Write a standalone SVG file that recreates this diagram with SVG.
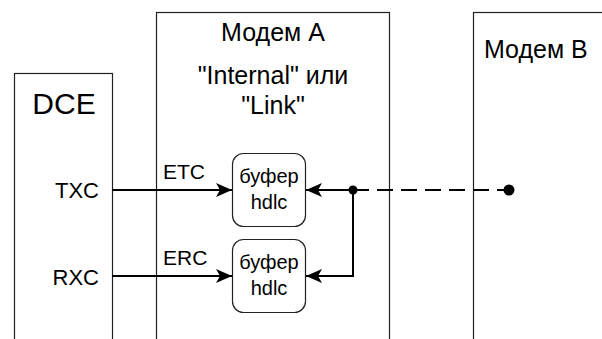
<svg xmlns="http://www.w3.org/2000/svg" width="602" height="339" viewBox="0 0 602 339">
<style>
.box{fill:#fff;stroke:#222;stroke-width:1.2}
.buf{fill:#fff;stroke:#222;stroke-width:1.2}
text{font-family:"Liberation Sans",Arial,sans-serif;fill:#000}
.c{text-anchor:middle}
.r{text-anchor:end}
.wire{fill:none;stroke:#000;stroke-width:2}
.dash{fill:none;stroke:#000;stroke-width:2;stroke-dasharray:16 8}
</style>
<defs>
<marker id="arr" viewBox="0 0 16 14" refX="16" refY="7" markerWidth="16" markerHeight="14" markerUnits="userSpaceOnUse" orient="auto">
<path d="M0,0 L16,7 L0,14 L4,7 Z" fill="#000"/>
</marker>
</defs>
<rect width="602" height="339" fill="#fff"/>
<g id="dce">
<rect class="box" x="14.5" y="73.5" width="98" height="280"/>
<text class="c" x="64" y="114" font-size="30">DCE</text>
<text class="r" x="99" y="198" font-size="22">TXC</text>
<text class="r" x="99" y="285" font-size="22">RXC</text>
</g>
<g id="modemA">
<rect class="box" x="156.5" y="12.5" width="233" height="340"/>
<text class="c" x="273" y="41" font-size="25">Модем А</text>
<text class="c" x="273" y="84" font-size="25">"Internal" или</text>
<text class="c" x="273" y="114" font-size="25">"Link"</text>
<text x="163" y="179" font-size="21">ETC</text>
<text x="163" y="265" font-size="21">ERC</text>
</g>
<g id="modemB">
<rect class="box" x="473.5" y="12.5" width="160" height="340"/>
<text x="484" y="58" font-size="25">Модем В</text>
</g>
<g id="buf1">
<rect class="buf" x="232.5" y="153.5" width="73" height="73" rx="11"/>
<text class="c" x="269" y="183" font-size="20">буфер</text>
<text class="c" x="269" y="209" font-size="20">hdlc</text>
</g>
<g id="buf2">
<rect class="buf" x="232.5" y="239.5" width="73" height="73" rx="11"/>
<text class="c" x="269" y="269" font-size="20">буфер</text>
<text class="c" x="269" y="295" font-size="20">hdlc</text>
</g>
<g id="connectors">
<line class="wire" x1="112" y1="190" x2="232" y2="190" marker-end="url(#arr)"/>
<line class="wire" x1="112" y1="276" x2="232" y2="276" marker-end="url(#arr)"/>
<line class="wire" x1="353" y1="190" x2="306" y2="190" marker-end="url(#arr)"/>
<polyline class="wire" points="353,190 353,276 306,276" marker-end="url(#arr)"/>
<line class="dash" x1="353" y1="190" x2="505" y2="190"/>
<circle cx="353" cy="190" r="4.5" fill="#000"/>
<circle cx="509" cy="190" r="5.5" fill="#000"/>
</g>
</svg>
